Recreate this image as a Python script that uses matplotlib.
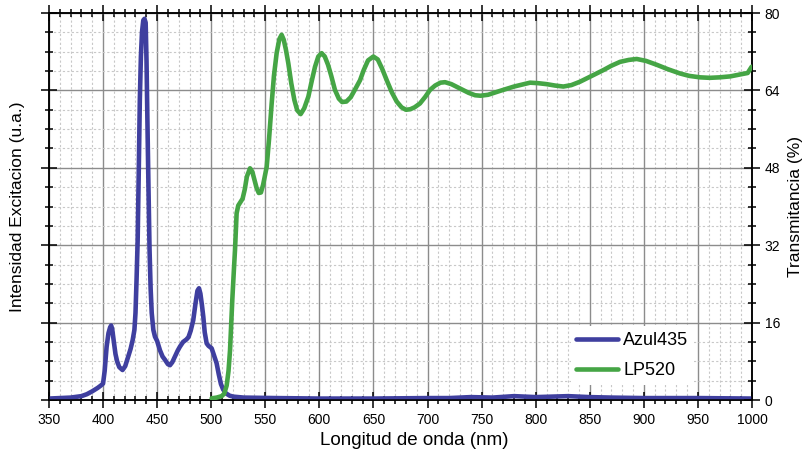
import matplotlib.pyplot as plt
from matplotlib.ticker import MultipleLocator, NullFormatter

plt.rcParams['font.family'] = ['Liberation Sans', 'DejaVu Sans']

# Azul435 (intensidad de excitacion, u.a.)
azul_nm = [350, 360, 370, 380, 385, 390, 395, 398, 400, 401.5, 403.3, 405, 406.5, 407.5,
           408.5, 410, 411.5, 413, 415, 418, 420.5, 423.3, 425.5, 427.4, 429, 430, 431,
           432, 433, 434, 435, 436, 437.2, 438.3, 439.4, 440.2, 441, 442, 443, 444, 445,
           446.5, 448, 450, 452.6, 455, 457.3, 460, 461.9, 464, 466.5, 469, 471, 474,
           477, 479, 481, 483.4, 485.5, 487.3, 488.7, 490, 491.5, 492.7, 494, 495.8,
           497.5, 500.4, 502.5, 505, 507, 509, 511, 513.5, 517, 520.4, 530, 560, 600,
           650, 700, 720, 740, 760, 780, 800, 815, 830, 850, 870, 900, 950, 1000]
azul_val = [0.3, 0.4, 0.5, 0.8, 1.2, 1.8, 2.5, 3.0, 3.4, 6, 11, 13.8, 15, 15.4,
            14.6, 12, 9.5, 8, 6.8, 6.2, 7, 9, 10.6, 12.4, 14.5, 18, 25,
            33, 47, 62, 71, 76, 78.5, 78.8, 78, 70, 58, 44, 31, 23, 18,
            14.5, 13.1, 12.2, 10.3, 9.0, 8.3, 7.4, 7.2, 7.8, 9, 10.2, 11, 12,
            12.5, 13, 14.3, 16.5, 20, 22.6, 23.1, 22, 19.5, 17.2, 14, 11.7,
            11.2, 10.7, 9.3, 7.6, 5.3, 3.3, 2.2, 1.4, 0.9, 0.7, 0.5, 0.4, 0.3,
            0.3, 0.4, 0.4, 0.6, 0.5, 0.8, 0.6, 0.7, 0.8, 0.6, 0.5, 0.4, 0.4, 0.3]

# LP520 (transmitancia, %)
lp_nm = [500.4, 505, 509.7, 512, 514.3, 516, 517.4, 519.5, 521, 522, 523.5, 525, 527, 529,
         531, 533, 535.9, 538, 540, 542, 544, 546, 548, 551.3, 553.5, 555.9, 558, 560.5,
         563, 565.1, 567, 569, 571.3, 574, 576.9, 579.5, 582.7, 586, 589.8, 593, 596, 599,
         602.1, 605, 608, 611, 614.4, 618, 621, 625, 629, 633, 637.6, 641, 645, 649.9,
         654, 658, 662.3, 667, 671.5, 676, 680, 684, 688, 693, 698, 702.3, 707, 712,
         716.2, 722, 730, 738, 744, 749, 756, 767, 780, 794.8, 802, 810, 818, 825.6,
         833, 841, 850, 862.6, 870, 878, 886, 893.4, 902, 911.9, 922, 933.5, 942, 952,
         961, 970, 980, 989, 996, 999.7]
lp_val = [0.35, 0.5, 0.8, 1.3, 3.0, 6, 10.3, 20.7, 27, 31, 38.6, 40.2, 40.9, 41.6,
          43.5, 46.2, 47.9, 47.2, 45.5, 43.8, 42.8, 42.9, 44.5, 48.2, 54, 61.3, 67, 71.7,
          74.6, 75.5, 74.5, 72.5, 69.6, 65.5, 62, 59.9, 59.1, 60.3, 62.7, 66, 68.9, 71,
          71.7, 71, 69.3, 67, 64.1, 62.3, 61.6, 61.7, 62.6, 64.2, 66.1, 68.2, 70.2, 71.0,
          70.4, 68.5, 66.1, 63.6, 61.7, 60.5, 60.0, 60.1, 60.5, 61.3, 62.7, 64.1, 65.0, 65.6,
          65.7, 65.3, 64.4, 63.5, 63.0, 62.9, 63.1, 63.9, 64.8, 65.6, 65.5, 65.3, 65.0, 64.8,
          65.1, 65.8, 66.8, 68.2, 69.1, 69.9, 70.3, 70.5, 70.1, 69.3, 68.4, 67.5, 67.0, 66.7,
          66.6, 66.7, 66.9, 67.3, 67.6, 68.9]

fig = plt.figure(figsize=(8.08, 4.58), dpi=100)
ax = fig.add_axes([0.0606, 0.1266, 0.8701, 0.845])
ax2 = ax.twinx()

azul_color = '#3f3f9f'
lp_color = '#45a545'

l1, = ax.plot(azul_nm, azul_val, color=azul_color, lw=3.3, solid_joinstyle='round',
              solid_capstyle='round', label='Azul435', zorder=3)
l2, = ax2.plot(lp_nm, lp_val, color=lp_color, lw=3.3, solid_joinstyle='round',
               solid_capstyle='round', label='LP520', zorder=3)

ax.set_xlim(350, 1000)
ax.set_ylim(0, 80)
ax2.set_ylim(0, 80)

ax.xaxis.set_major_locator(MultipleLocator(50))
ax.xaxis.set_minor_locator(MultipleLocator(10))
for a in (ax, ax2):
    a.yaxis.set_major_locator(MultipleLocator(16))
    a.yaxis.set_minor_locator(MultipleLocator(4))
ax.yaxis.set_major_formatter(NullFormatter())

ax.grid(which='minor', color='#c8c8c8', linestyle=(0, (2, 2)), lw=0.8)
ax.grid(which='major', color='#8c8c8c', linestyle='-', lw=1.0)
ax.set_axisbelow(True)

ax.tick_params(which='major', direction='inout', length=11, width=1.1, top=True,
               labelsize=10, color='black')
ax.tick_params(which='minor', direction='inout', length=6, width=1.1, top=True)
ax2.tick_params(which='major', direction='inout', length=11, width=1.1, labelsize=10)
ax2.tick_params(which='minor', direction='inout', length=6, width=1.1)

for a in (ax, ax2):
    for s in a.spines.values():
        s.set_linewidth(1.1)
        s.set_color('black')

ax.set_xlabel('Longitud de onda (nm)', fontsize=13.5, labelpad=4)
ax.xaxis.set_label_coords(0.52, -0.083)
ax.set_ylabel('Intensidad Excitacion (u.a.)', fontsize=12.5, labelpad=8)
ax2.set_ylabel('Transmitancia (%)', fontsize=12.5, labelpad=6)

leg = ax2.legend(handles=[l1, l2], loc='lower right', bbox_to_anchor=(0.93, 0.016),
                 fontsize=13, frameon=True, fancybox=False, edgecolor='white',
                 framealpha=1, handlelength=2.3, handletextpad=0.3, borderpad=0.3,
                 labelspacing=0.75)
leg.get_frame().set_linewidth(0)

fig.savefig('out.png', dpi=100)
